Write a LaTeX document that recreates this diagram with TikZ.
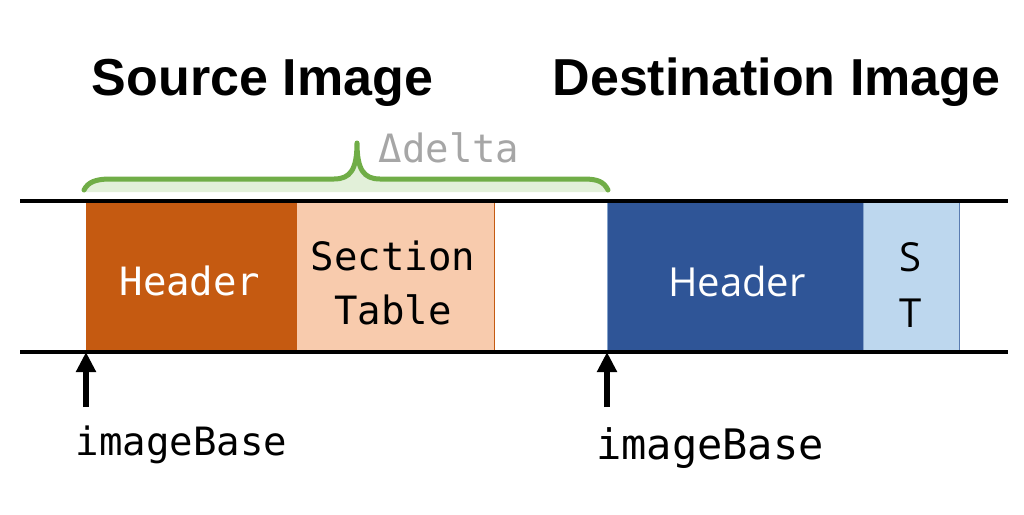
\documentclass[tikz,border=0pt]{standalone}
\usepackage{fontspec}
\setmainfont{Liberation Sans}
\newfontfamily\monof{DejaVu Sans Mono}
\newfontfamily\sansf{Open Sans}
\usetikzlibrary{arrows.meta}
\definecolor{horange}{HTML}{C55A11}
\definecolor{lorange}{HTML}{F8CBAD}
\definecolor{hblue}{HTML}{2F5597}
\definecolor{lblue}{HTML}{BDD7EE}
\definecolor{bgreen}{HTML}{70AD47}
\definecolor{lgreen}{HTML}{E2F0D9}
\definecolor{dgray}{HTML}{A6A6A6}
\tikzset{
  blk/.style={inner sep=0pt, outer sep=0pt, anchor=north west},
  montxt/.style={anchor=base, inner sep=0pt, font=\monof\fontsize{39}{40}\selectfont},
  santxt/.style={anchor=base, inner sep=0pt, font=\sansf\fontsize{40}{44}\selectfont},
  headtxt/.style={anchor=base, inner sep=0pt, font=\bfseries\fontsize{52}{56}\selectfont},
  rail/.style={line width=4.2pt},
  ptr/.style={line width=5.2pt, -{Triangle[width=19pt,length=20pt]}},
}
\begin{document}
\begin{tikzpicture}[x=1pt,y=-1pt]
\useasboundingbox (0,0) rectangle (1024,514);
% headings
\node[headtxt] (srch) at (262.5,95) {Source Image};
\node[headtxt] (dsth) at (776.5,95) {Destination Image};
% brace
\fill[lgreen] (84,192) -- (84,190) .. controls (88,182) and (96,179) .. (110,179)
  -- (334,179) .. controls (350,179) and (357,170) .. (357,143)
  .. controls (357,170) and (364,179) .. (380,179)
  -- (584,179) .. controls (598,179) and (604,182) .. (608,190) -- (608,192) -- cycle;
\draw[bgreen, line width=5pt, line cap=round, line join=round]
  (84,190) .. controls (88,182) and (96,179) .. (110,179)
  -- (334,179) .. controls (350,179) and (357,170) .. (357,143)
  .. controls (357,170) and (364,179) .. (380,179)
  -- (584,179) .. controls (598,179) and (604,182) .. (608,190);
\node[montxt, text=dgray] (delta) at (449,162) {Δdelta};
% source blocks
\node[blk, fill=horange, minimum width=210pt, minimum height=151pt] (hdrA) at (86,201) {};
\node[blk, fill=lorange, draw=horange, line width=0.8pt, minimum width=198pt, minimum height=151pt] (stA) at (296,201) {};
\fill[horange] (hdrA.north west) rectangle (hdrA.south east);
% destination blocks
\node[blk, fill=lblue, draw=hblue!70!lblue, line width=0.8pt, minimum width=96pt, minimum height=151pt] (stB) at (863,201) {};
\node[blk, fill=hblue, draw=lblue!60!hblue, line width=0.6pt, minimum width=256pt, minimum height=151pt] (hdrB) at (607,201) {};
% rails
\coordinate (railTL) at (20,201);
\coordinate (railTR) at (1008,201);
\coordinate (railBL) at (20,352);
\coordinate (railBR) at (1008,352);
\draw[rail] (railTL) -- (railTR);
\draw[rail] (railBL) -- (railBR);
% texts in blocks
\node[montxt, text=white] (hdrAt) at (190,295) {Header};
\node[montxt] (stAt1) at (393,270) {Section};
\node[montxt] (stAt2) at (393,324) {Table};
\node[santxt, text=white] (hdrBt) at (737,296) {Header};
\node[santxt] (stBt1) at (910.5,271) {S};
\node[santxt] (stBt2) at (910.5,327) {T};
% pointers
\coordinate (pA) at (86,407);
\coordinate (pB) at (607,407);
\draw[ptr] (pA) -- (hdrA.south west);
\draw[ptr] (pB) -- (hdrB.south west);
\node[montxt] (ibA) at (181.5,455) {imageBase};
\node[montxt, font=\monof\fontsize{42}{44}\selectfont] (ibB) at (710,459) {imageBase};
\end{tikzpicture}
\end{document}
